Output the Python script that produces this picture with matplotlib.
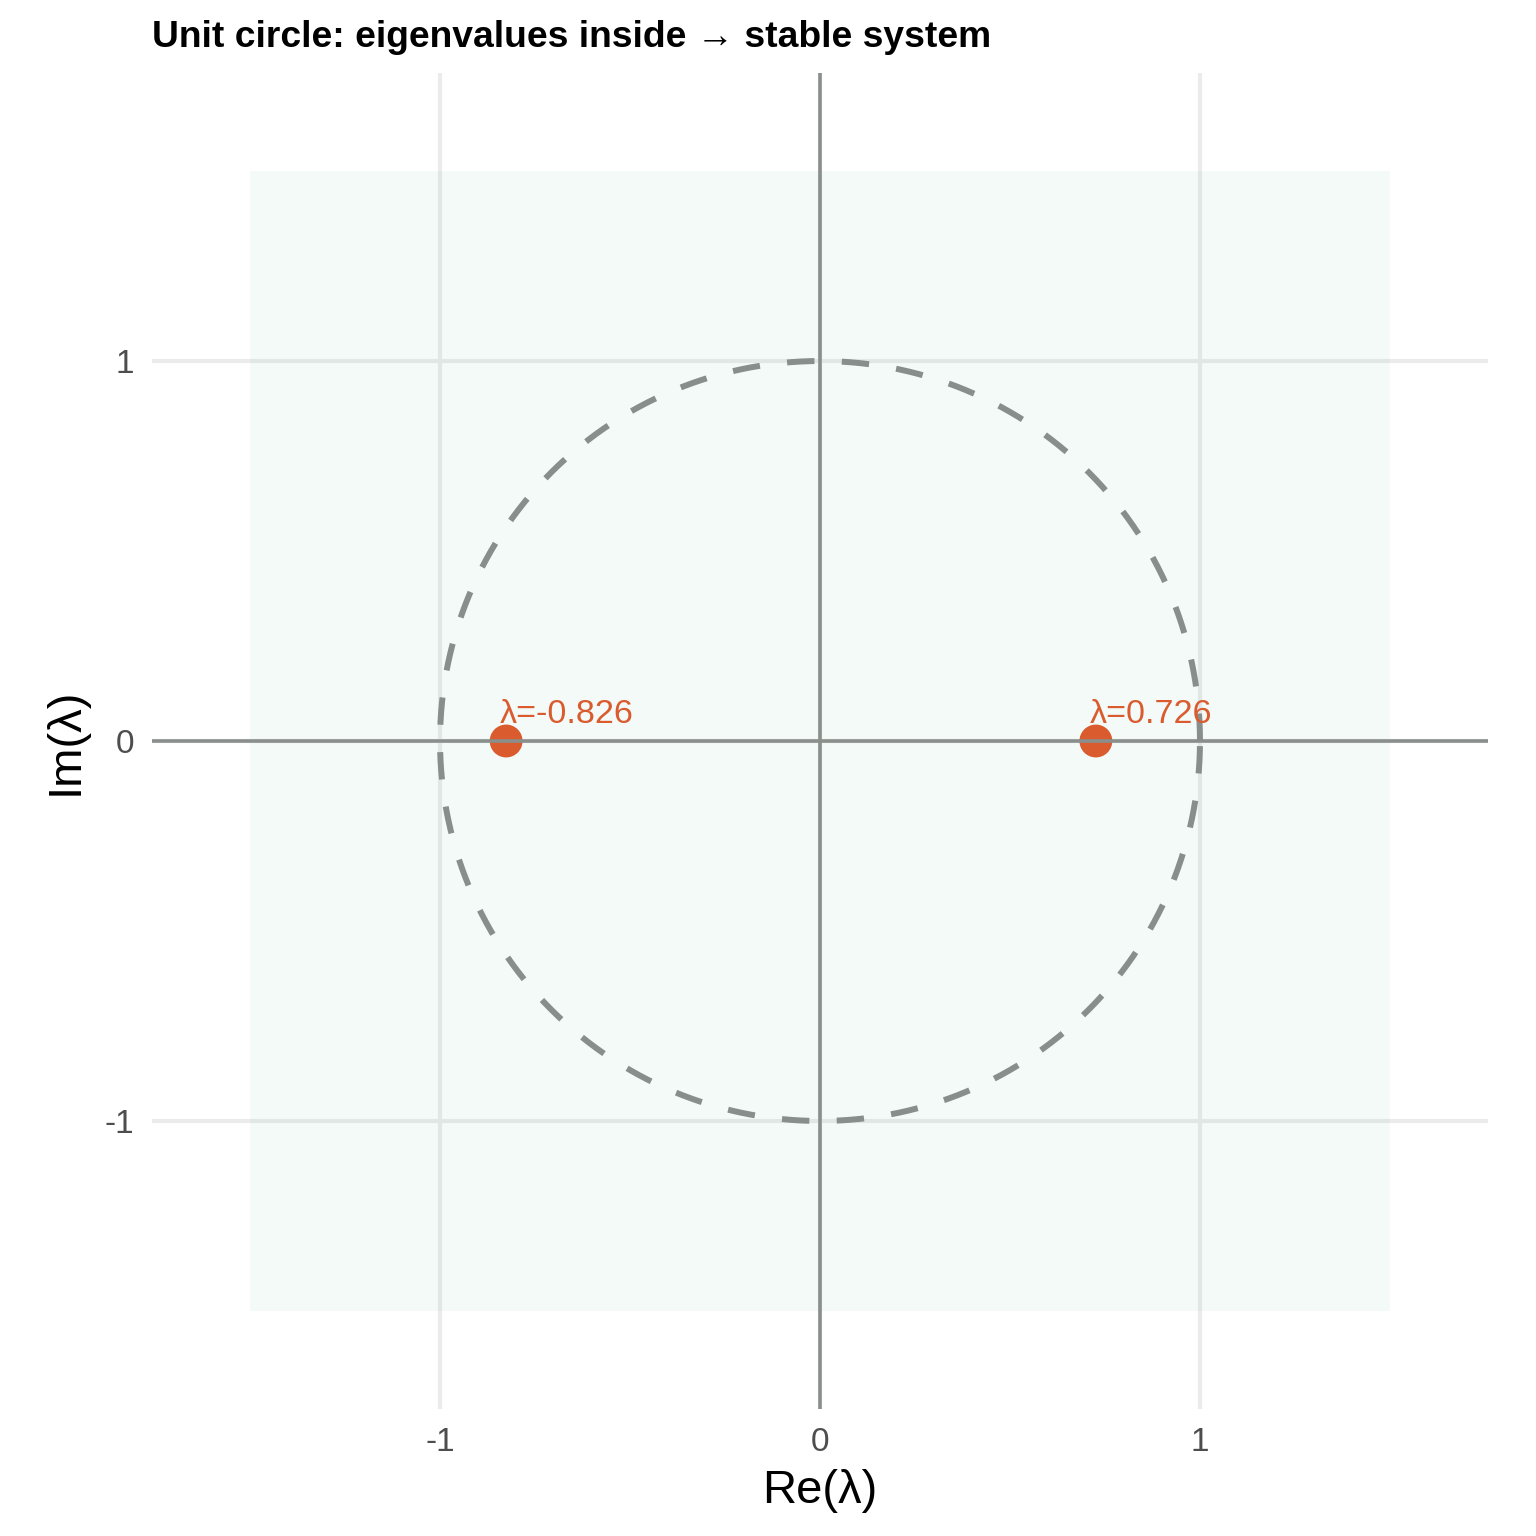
import matplotlib
matplotlib.use("Agg")
import matplotlib.pyplot as plt
import numpy as np
from matplotlib.patches import Rectangle

plt.rcParams['font.family'] = ['Liberation Sans', 'DejaVu Sans']

# Data
eig_re = [-0.826, 0.726]
eig_im = [0.0, 0.0]
eig_labels = ["λ=-0.826", "λ=0.726"]
ticks = [-1, 0, 1]
tick_labels = ["-1", "0", "1"]
region = (-1.5, 1.5)
lim = 1.758

fig = plt.figure(figsize=(7.68, 7.68), dpi=200)
ax = fig.add_axes([152/1536, 1 - 1409/1536, 1336/1536, 1336/1536])

ax.set_xlim(-lim, lim)
ax.set_ylim(-lim, lim)

# grid
for t in ticks:
    ax.axvline(t, color='#EBEBEB', lw=1.5, zorder=0)
    ax.axhline(t, color='#EBEBEB', lw=1.5, zorder=0)

# stable region
ax.add_patch(Rectangle((region[0], region[0]), region[1]-region[0], region[1]-region[0],
                       facecolor='#1b9e77', alpha=0.05, edgecolor='none', zorder=1))

# unit circle
theta = np.linspace(0, 2*np.pi, 721)
ax.plot(np.cos(theta), np.sin(theta), color='#878E8B', lw=2.15,
        dashes=(4.585, 4.585), zorder=2)

# points
ax.scatter(eig_re, eig_im, s=140, color='#D95B2E', edgecolors='none', zorder=3)

# axis lines
ax.axhline(0, color='#8A8F8C', lw=1.3, zorder=4)
ax.axvline(0, color='#8A8F8C', lw=1.3, zorder=4)

# labels
for x, y, lab in zip(eig_re, eig_im, eig_labels):
    ax.annotate(lab, (x, y), xytext=(-2.2, 6.6), textcoords='offset points',
                ha='left', va='baseline', color='#D95B2E', fontsize=12.3, zorder=5)

for s in ax.spines.values():
    s.set_visible(False)
ax.set_xticks(ticks)
ax.set_xticklabels(tick_labels)
ax.set_yticks(ticks)
ax.set_yticklabels(tick_labels)
ax.tick_params(length=0, labelsize=12, labelcolor='#4D4D4D', pad=6.5)
ax.set_xlabel("Re(λ)", fontsize=17, labelpad=4)
ax.set_ylabel("Im(λ)", fontsize=17, labelpad=6)
ax.set_facecolor('white')

fig.text(152/1536, 1 - 47/1536, "Unit circle: eigenvalues inside → stable system",
         fontsize=13.4, fontweight='bold', ha='left', va='baseline')

fig.savefig("out.png", dpi=200, facecolor='white')
